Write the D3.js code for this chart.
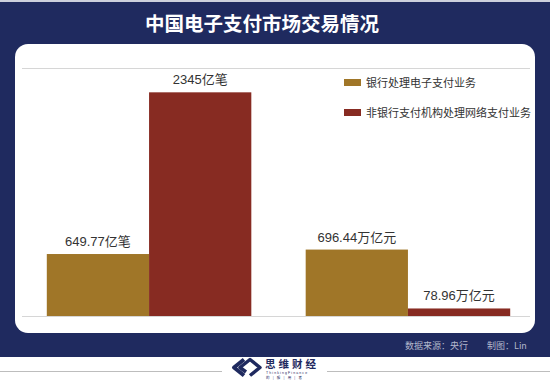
<!DOCTYPE html>
<html><head><meta charset="utf-8">
<script src="https://cdn.jsdelivr.net/npm/d3@7"></script>
<style>html,body{margin:0;padding:0;background:#fff;}svg{display:block;}</style>
</head><body><div id="chart"></div>
<script>
const title = "中国电子支付市场交易情况";
const groups = ["交易笔数", "交易金额"];
const seriesNames = ["银行处理电子支付业务", "非银行支付机构处理网络支付业务"];
const bankValues = [649.77, 696.44];
const nonBankValues = [2345, 78.96];
const bankLabels = ["649.77亿笔", "696.44万亿元"];
const nonBankLabels = ["2345亿笔", "78.96万亿元"];
const seriesColors = ["#a07628", "#872b22"];
const sourceText = "数据来源：央行";
const authorText = "制图：Lin";

const W = 550, H = 384;
const navy = "#1f2a5f";
const svg = d3.select("#chart").append("svg").attr("width", W).attr("height", H);

// frame
svg.append("rect").attr("x", 0).attr("y", 0).attr("width", W).attr("height", 2).attr("fill", "#cdd0dd");
svg.append("rect").attr("x", 0).attr("y", 2).attr("width", W).attr("height", 355).attr("fill", navy);
svg.append("text").attr("x", 262).attr("y", 31).attr("text-anchor", "middle")
  .attr("fill", "#fff").attr("font-size", 19.5).attr("font-weight", 700)
  .attr("font-family", "'Noto Sans CJK SC', sans-serif").text(title);
svg.append("rect").attr("x", 15).attr("y", 44).attr("width", 520).attr("height", 289)
  .attr("rx", 13).attr("fill", "#fff");

// scales
const y = d3.scaleLinear().domain([0, 2600]).range([316, 68]);
const x0 = d3.scaleBand().domain(groups).range([23.5, 533.5]).paddingInner(0.21).paddingOuter(0.09);
const x1 = d3.scaleBand().domain(seriesNames).range([0, x0.bandwidth()]).padding(0);
const color = d3.scaleOrdinal().domain(seriesNames).range(seriesColors);

// gridlines (top and baseline)
const grid = svg.append("g").attr("transform", "translate(22,0)")
  .call(d3.axisLeft(y).tickValues([0, 2600]).tickSize(-508).tickFormat(""));
grid.select(".domain").remove();
grid.selectAll(".tick line").attr("stroke", "#d6d6d6").attr("stroke-width", 1);

const rows = groups.map((g, i) => ({
  group: g,
  items: [
    { s: seriesNames[0], v: bankValues[i], label: bankLabels[i] },
    { s: seriesNames[1], v: nonBankValues[i], label: nonBankLabels[i] }
  ]
}));

const gg = svg.selectAll("g.grp").data(rows).enter().append("g").attr("class", "grp")
  .attr("transform", d => `translate(${x0(d.group)},0)`);
gg.selectAll("rect").data(d => d.items).enter().append("rect")
  .attr("x", d => x1(d.s)).attr("y", d => y(d.v))
  .attr("width", x1.bandwidth()).attr("height", d => y(0) - y(d.v))
  .attr("fill", d => color(d.s));
gg.selectAll("text").data(d => d.items).enter().append("text")
  .attr("x", d => x1(d.s) + x1.bandwidth() / 2).attr("y", d => y(d.v) - 8)
  .attr("text-anchor", "middle").attr("fill", "#333").attr("font-size", 13)
  .attr("font-family", "'Liberation Sans', 'Noto Sans CJK SC', sans-serif")
  .text(d => d.label);

// legend
const lg = svg.append("g").attr("transform", "translate(344,79)");
const li = lg.selectAll("g").data(seriesNames).enter().append("g")
  .attr("transform", (d, i) => `translate(0,${i * 30})`);
li.append("rect").attr("width", 17).attr("height", 7).attr("fill", d => color(d));
li.append("text").attr("x", 22).attr("y", 8).attr("fill", "#333").attr("font-size", 11)
  .attr("font-family", "'Noto Sans CJK SC', sans-serif").text(d => d);

// footer
const ft = { fill: "#b3b8cc", size: 9 };
svg.append("text").attr("x", 405).attr("y", 348.5).attr("fill", ft.fill).attr("font-size", ft.size)
  .attr("font-family", "'Noto Sans CJK SC', sans-serif").text(sourceText);
svg.append("text").attr("x", 487).attr("y", 348.5).attr("fill", ft.fill).attr("font-size", ft.size)
  .attr("font-family", "'Noto Sans CJK SC', sans-serif").text(authorText);

// bottom logo band
svg.append("line").attr("x1", 0).attr("x2", 222).attr("y1", 371.5).attr("y2", 371.5).attr("stroke", "#bdbdbd");
svg.append("line").attr("x1", 327).attr("x2", 550).attr("y1", 371.5).attr("y2", 371.5).attr("stroke", "#bdbdbd");
const logo = svg.append("g");
logo.append("path").attr("d", "M244,359.5 L234,367.5 L244,375.5")
  .attr("fill", "none").attr("stroke", navy).attr("stroke-width", 4).attr("stroke-linejoin", "round");
logo.append("path").attr("d", "M246,372 L240,367.5 L250,359.5 L260,367.5 L250,375.5")
  .attr("fill", "none").attr("stroke", navy).attr("stroke-width", 3.5).attr("stroke-linejoin", "round");
logo.append("text").attr("x", 265).attr("y", 368).attr("fill", navy).attr("font-size", 10.5)
  .attr("font-weight", 700).attr("letter-spacing", 3)
  .attr("font-family", "'Noto Sans CJK SC', sans-serif").text("思维财经");
logo.append("text").attr("x", 266).attr("y", 373.5).attr("fill", navy).attr("font-size", 3.5)
  .attr("letter-spacing", 1.1).attr("font-family", "'Liberation Sans', sans-serif").text("ThinkingFinance");
logo.append("text").attr("x", 266).attr("y", 379).attr("fill", navy).attr("font-size", 3.5)
  .attr("letter-spacing", 1.2).attr("font-family", "'Noto Sans CJK SC', sans-serif").text("的 | 服 | 用 | 者");
</script></body></html>
